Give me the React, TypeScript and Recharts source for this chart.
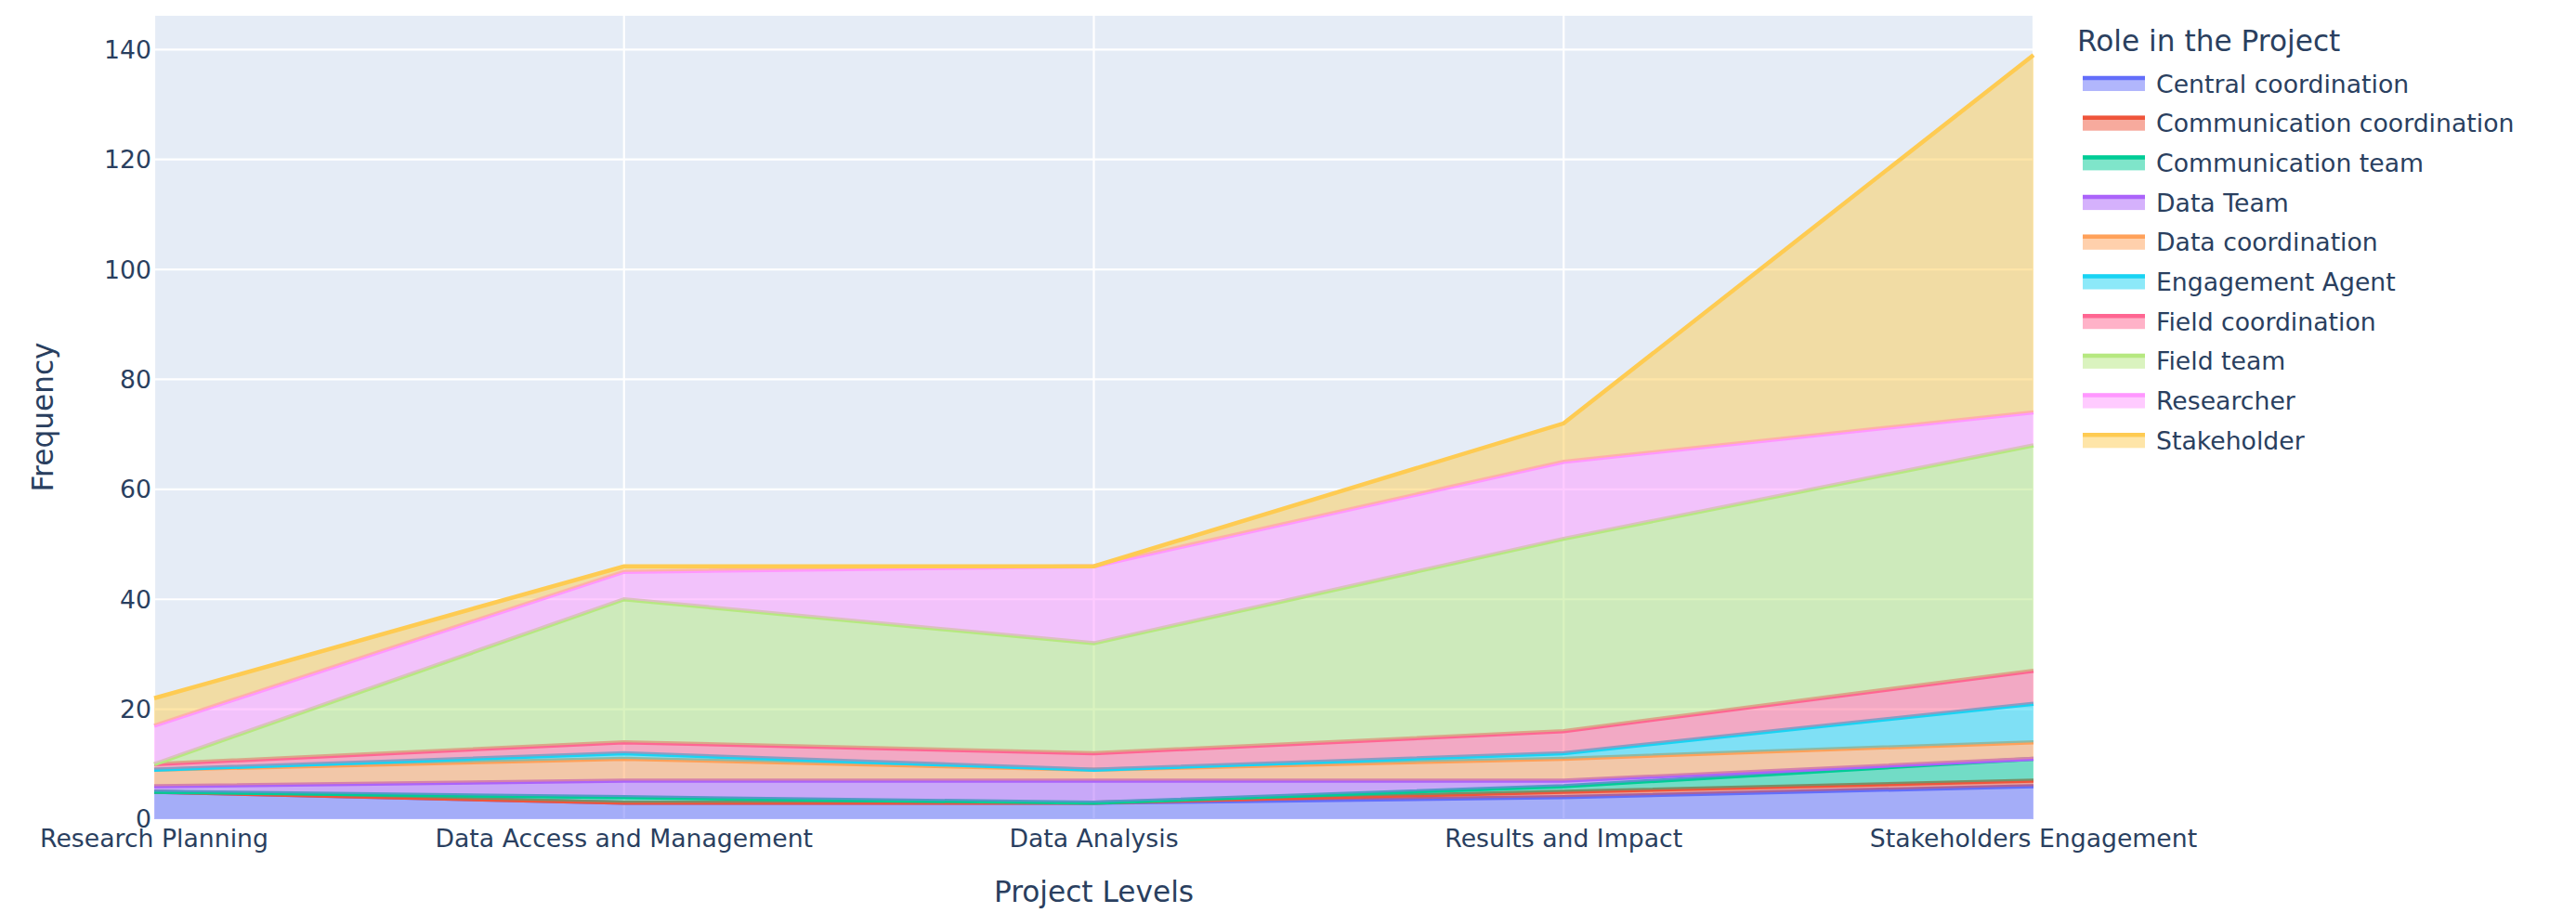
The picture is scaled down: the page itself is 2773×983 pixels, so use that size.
import { AreaChart, Area, XAxis, YAxis, CartesianGrid, Legend } from "recharts"

const LEVELS = [
    "Research Planning",
    "Data Access and Management",
    "Data Analysis",
    "Results and Impact",
    "Stakeholders Engagement",
]

// counts per project level
const centralCoordination = [5, 3, 3, 4, 6]
const communicationCoordination = [0, 0, 0, 1, 1]
const communicationTeam = [0, 1, 0, 1, 4]
const dataTeam = [1, 3, 4, 1, 0]
const dataCoordination = [3, 4, 2, 4, 3]
const engagementAgent = [0, 1, 0, 1, 7]
const fieldCoordination = [1, 2, 3, 4, 6]
const fieldTeam = [0, 26, 20, 35, 41]
const researcher = [7, 5, 14, 14, 6]
const stakeholder = [5, 1, 0, 7, 65]

const Y_TICKS = [0, 20, 40, 60, 80, 100, 120, 140]

const ROLES = [
    { key: "central", name: "Central coordination", color: "#636efa", values: centralCoordination },
    { key: "commCoord", name: "Communication coordination", color: "#EF553B", values: communicationCoordination },
    { key: "commTeam", name: "Communication team", color: "#00cc96", values: communicationTeam },
    { key: "dataTeam", name: "Data Team", color: "#ab63fa", values: dataTeam },
    { key: "dataCoord", name: "Data coordination", color: "#FFA15A", values: dataCoordination },
    { key: "engagement", name: "Engagement Agent", color: "#19d3f3", values: engagementAgent },
    { key: "fieldCoord", name: "Field coordination", color: "#FF6692", values: fieldCoordination },
    { key: "fieldTeam", name: "Field team", color: "#B6E880", values: fieldTeam },
    { key: "researcher", name: "Researcher", color: "#FF97FF", values: researcher },
    { key: "stakeholder", name: "Stakeholder", color: "#FECB52", values: stakeholder },
]

const rows = LEVELS.map((level, i) => {
    const row: Record<string, string | number> = { level }
    ROLES.forEach((r) => {
        row[r.key] = r.values[i]
    })
    return row
})

const FONT = "'DejaVu Sans', Verdana, sans-serif"
const INK = "#2a3f5f"
const TICK_SIZE = 26.7
const TITLE_SIZE = 31.2

function RoleLegend() {
    return (
        <svg width={537} height={520} style={{ display: "block" }}>
            <text x={0} y={55} fontSize={TITLE_SIZE} fontFamily={FONT} fill={INK}>
                Role in the Project
            </text>
            {ROLES.map((r, i) => {
                const cy = 90 + i * 42.7
                return (
                    <g key={r.key}>
                        <rect x={6} y={cy - 8} width={67} height={16} fill={r.color} fillOpacity={0.5} />
                        <line x1={6} x2={73} y1={cy - 6} y2={cy - 6} stroke={r.color} strokeWidth={4.5} />
                        <text x={85} y={cy + 9.5} fontSize={TICK_SIZE} fontFamily={FONT} fill={INK}>
                            {r.name}
                        </text>
                    </g>
                )
            })}
        </svg>
    )
}

export default function App() {
    return (
        <div style={{ width: 2773, height: 983, background: "#fff" }}>
            <style>{"body{margin:0}"}</style>
            <AreaChart
                width={2773}
                height={983}
                data={rows}
                margin={{ top: 16, right: 584, bottom: 0, left: 0 }}
            >
                <CartesianGrid fill="#E5ECF6" fillOpacity={1} stroke="#ffffff" strokeWidth={2.2} />
                <XAxis
                    dataKey="level"
                    height={101}
                    interval={0}
                    tickSize={0}
                    tickMargin={11}
                    tickLine={false}
                    axisLine={false}
                    tick={{ fill: INK, fontSize: TICK_SIZE, fontFamily: FONT }}
                    label={{
                        content: () => (
                            <text x={1177.5} y={971} textAnchor="middle" fontSize={TITLE_SIZE} fontFamily={FONT} fill={INK}>
                                Project Levels
                            </text>
                        ),
                    }}
                />
                <YAxis
                    width={166}
                    domain={[0, 146.3]}
                    ticks={Y_TICKS}
                    tickSize={0}
                    tickMargin={3}
                    tickLine={false}
                    axisLine={false}
                    tick={{ fill: INK, fontSize: TICK_SIZE, fontFamily: FONT }}
                    label={{
                        content: () => (
                            <text
                                x={57}
                                y={449}
                                transform="rotate(-90 57 449)"
                                textAnchor="middle"
                                fontSize={TITLE_SIZE}
                                fontFamily={FONT}
                                fill={INK}
                            >
                                Frequency
                            </text>
                        ),
                    }}
                />
                <Legend
                    layout="vertical"
                    align="center"
                    verticalAlign="middle"
                    wrapperStyle={{ left: 2236, top: 0, width: 537, height: 520 }}
                    content={() => <RoleLegend />}
                />
                {ROLES.map((r) => (
                    <Area
                        key={r.key}
                        type="linear"
                        dataKey={r.key}
                        name={r.name}
                        stackId="roles"
                        stroke={r.color}
                        strokeWidth={4.5}
                        fill={r.color}
                        fillOpacity={0.5}
                        dot={false}
                        activeDot={false}
                        isAnimationActive={false}
                    />
                ))}
            </AreaChart>
        </div>
    )
}
